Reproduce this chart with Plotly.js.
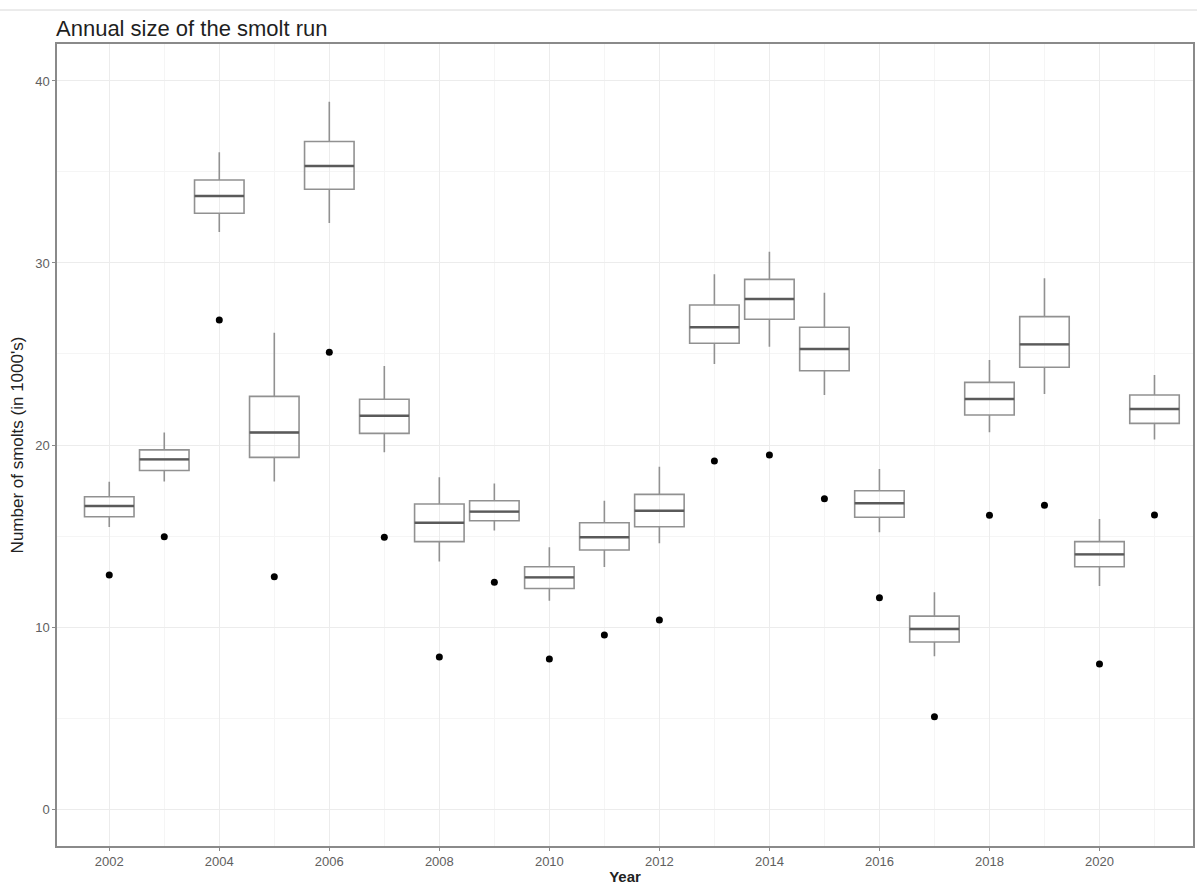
<!DOCTYPE html>
<html>
<head>
<meta charset="utf-8">
<script src="https://cdn.plot.ly/plotly-3.0.1.min.js"></script>
<style>
  html, body { margin: 0; padding: 0; background: #ffffff; }
  #chart { width: 1197px; height: 885px; }
</style>
</head>
<body>
<div id="chart"></div>
<script>
// Smolt run size per year (thousands of smolts)
const years       = [2002, 2003, 2004, 2005, 2006, 2007, 2008, 2009, 2010, 2011,
                     2012, 2013, 2014, 2015, 2016, 2017, 2018, 2019, 2020, 2021];
const lowWhisker  = [15.5, 18.0, 31.7, 18.0, 32.2, 19.6, 13.6, 15.3, 11.45, 13.3,
                     14.6, 24.45, 25.4, 22.75, 15.2, 8.4, 20.7, 22.8, 12.25, 20.3];
const q1          = [16.06, 18.6, 32.73, 19.32, 34.05, 20.64, 14.69, 15.84, 12.12, 14.23,
                     15.51, 25.59, 26.91, 24.08, 16.03, 9.18, 21.65, 24.27, 13.31, 21.19];
const med         = [16.65, 19.21, 33.68, 20.69, 35.33, 21.61, 15.73, 16.34, 12.73, 14.93,
                     16.39, 26.47, 28.02, 25.27, 16.8, 9.89, 22.53, 25.53, 13.99, 21.98];
const q3          = [17.16, 19.73, 34.56, 22.67, 36.67, 22.51, 16.76, 16.94, 13.31, 15.73,
                     17.29, 27.69, 29.1, 26.47, 17.49, 10.6, 23.44, 27.05, 14.69, 22.75];
const highWhisker = [17.98, 20.68, 36.08, 26.17, 38.86, 24.34, 18.23, 17.89, 14.38, 16.94,
                     18.81, 29.38, 30.62, 28.37, 18.68, 11.91, 24.67, 29.16, 15.93, 23.85];
const pointValue  = [12.86, 14.96, 26.87, 12.76, 25.09, 14.93, 8.35, 12.46, 8.24, 9.56,
                     10.38, 19.12, 19.45, 17.05, 11.61, 5.07, 16.14, 16.69, 7.97, 16.15];

const yTickVals = [0, 10, 20, 30, 40];
const xTickVals = [2002, 2004, 2006, 2008, 2010, 2012, 2014, 2016, 2018, 2020];

const boxWidth = 0.9;

// Median bars drawn on top so they read heavier than the box outline
const medX = [], medY = [];
years.forEach((yr, i) => {
  medX.push(yr - boxWidth / 2, yr + boxWidth / 2, null);
  medY.push(med[i], med[i], null);
});

const traces = [
  {
    type: 'box',
    x: years,
    q1: q1,
    median: med,
    q3: q3,
    lowerfence: lowWhisker,
    upperfence: highWhisker,
    width: boxWidth,
    whiskerwidth: 0,
    boxpoints: false,
    fillcolor: 'rgba(255,255,255,0)',
    line: { color: '#919191', width: 1.6 },
    showlegend: false,
    hoverinfo: 'skip'
  },
  {
    type: 'scatter',
    mode: 'lines',
    x: medX,
    y: medY,
    line: { color: '#5a5a5a', width: 2.4 },
    showlegend: false,
    hoverinfo: 'skip'
  },
  {
    type: 'scatter',
    mode: 'markers',
    x: years,
    y: pointValue,
    marker: { color: '#000000', size: 7 },
    showlegend: false
  }
];

const layout = {
  width: 1197,
  height: 885,
  paper_bgcolor: '#ffffff',
  plot_bgcolor: '#ffffff',
  font: { family: 'Liberation Sans, Arial, sans-serif', color: '#4d4d4d', size: 13 },
  margin: { l: 57, r: 4, t: 44, b: 39 },
  title: {
    text: 'Annual size of the smolt run',
    xref: 'container', yref: 'container',
    x: 56 / 1197, xanchor: 'left',
    y: 1 - 28 / 885, yanchor: 'middle',
    font: { size: 22, color: '#1f1f1f' }
  },
  xaxis: {
    range: [2001.05, 2021.7],
    tickvals: xTickVals,
    ticktext: xTickVals.map(String),
    ticks: 'outside', ticklen: 3, tickcolor: '#8a8a8a', tickwidth: 1,
    tickfont: { size: 13, color: '#606060' },
    showgrid: true, gridcolor: '#ececec', gridwidth: 1,
    minor: { dtick: 1, tick0: 2001, showgrid: true, gridcolor: '#f5f5f5', gridwidth: 1, ticklen: 0 },
    zeroline: false,
    showline: true, linecolor: '#8a8a8a', linewidth: 1.6, mirror: true,
    title: { text: 'Year', font: { size: 15, color: '#222222', weight: 'bold' }, standoff: 3 }
  },
  yaxis: {
    range: [-2.03, 42.03],
    tickvals: yTickVals,
    ticktext: yTickVals.map(String),
    ticks: 'outside', ticklen: 3, tickcolor: '#8a8a8a', tickwidth: 1,
    tickfont: { size: 13, color: '#606060' },
    showgrid: true, gridcolor: '#ececec', gridwidth: 1,
    minor: { dtick: 5, tick0: 0, showgrid: true, gridcolor: '#f5f5f5', gridwidth: 1, ticklen: 0 },
    zeroline: false,
    showline: true, linecolor: '#8a8a8a', linewidth: 1.6, mirror: true,
    title: { text: "Number of smolts (in 1000's)", font: { size: 17, color: '#222222' }, standoff: 7 }
  },
  shapes: [
    {
      type: 'line', xref: 'paper', yref: 'paper',
      x0: -57 / 1136, x1: 1.01, y0: 1 + 34 / 802, y1: 1 + 34 / 802,
      line: { color: '#d8d8d8', width: 1 }
    }
  ]
};

Plotly.newPlot('chart', traces, layout, { displayModeBar: false, staticPlot: true });
</script>
</body>
</html>
